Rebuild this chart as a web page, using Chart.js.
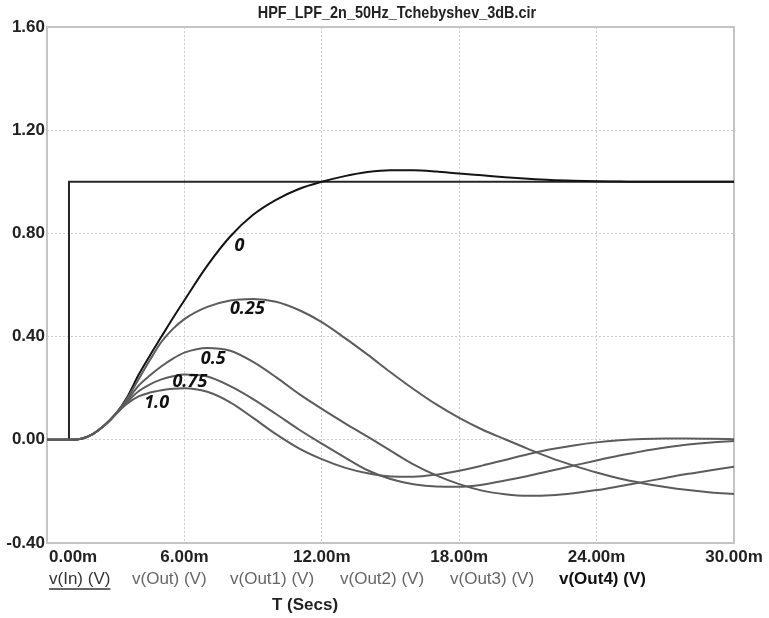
<!DOCTYPE html>
<html><head><meta charset="utf-8">
<script src="https://cdn.jsdelivr.net/npm/chart.js@4/dist/chart.umd.min.js"></script>
<style>html,body{margin:0;padding:0;background:#fff;}canvas{display:block;}</style>
</head><body>
<canvas id="c" width="769" height="618"></canvas>
<script>
const chartTitle = 'HPF_LPF_2n_50Hz_Tchebyshev_3dB.cir';
const axisTitleX = 'T (Secs)';
const seriesNames = ['v(In) (V)', 'v(Out) (V)', 'v(Out1) (V)', 'v(Out2) (V)', 'v(Out3) (V)', 'v(Out4) (V)'];
const xTicks = [0, 6, 12, 18, 24, 30];
const yTicks = [-0.4, 0, 0.4, 0.8, 1.2, 1.6];

// time in ms
const timeMs = [0, 1, 1.5, 2, 2.5, 3, 3.5, 4, 4.5, 5, 5.5, 6, 7, 8, 9, 10, 11, 12, 13, 14, 15, 16, 17, 18, 19, 20, 21, 22, 23, 24, 25, 26, 27, 28, 29, 30];
const inTime = [0, 0.96, 0.96, 30];
const vIn = [0, 0, 1, 1];
const vOut  = [0, 0, 0.004, 0.022, 0.055, 0.1, 0.165, 0.252, 0.328, 0.4, 0.472, 0.541, 0.675, 0.788, 0.872, 0.93, 0.972, 1.0, 1.022, 1.038, 1.045, 1.045, 1.04, 1.032, 1.025, 1.018, 1.012, 1.007, 1.004, 1.002, 1.001, 1.0, 1.0, 1.0, 1.0, 1.0];
const vOut1 = [0, 0, 0.004, 0.022, 0.055, 0.1, 0.16, 0.235, 0.31, 0.38, 0.43, 0.468, 0.515, 0.54, 0.546, 0.535, 0.503, 0.456, 0.395, 0.33, 0.262, 0.197, 0.137, 0.085, 0.04, 0.002, -0.035, -0.07, -0.1, -0.127, -0.15, -0.168, -0.183, -0.195, -0.204, -0.21];
const vOut2 = [0, 0, 0.004, 0.022, 0.055, 0.1, 0.153, 0.21, 0.25, 0.285, 0.315, 0.338, 0.356, 0.345, 0.302, 0.243, 0.178, 0.12, 0.065, 0.012, -0.042, -0.095, -0.138, -0.172, -0.197, -0.211, -0.217, -0.215, -0.207, -0.195, -0.18, -0.164, -0.148, -0.132, -0.118, -0.104];
const vOut3 = [0, 0, 0.004, 0.022, 0.055, 0.1, 0.147, 0.188, 0.215, 0.234, 0.246, 0.253, 0.245, 0.208, 0.158, 0.1, 0.04, -0.015, -0.068, -0.118, -0.152, -0.172, -0.181, -0.182, -0.174, -0.158, -0.14, -0.12, -0.1, -0.08, -0.061, -0.044, -0.03, -0.018, -0.01, -0.005];
const vOut4 = [0, 0, 0.004, 0.022, 0.055, 0.099, 0.14, 0.168, 0.183, 0.192, 0.198, 0.2, 0.186, 0.145, 0.085, 0.022, -0.033, -0.075, -0.108, -0.13, -0.142, -0.143, -0.135, -0.12, -0.1, -0.078, -0.056, -0.037, -0.022, -0.01, -0.002, 0.003, 0.005, 0.005, 0.004, 0.002];

// in-plot curve annotations (data coordinates)
const curveLabels = ['0', '0.25', '0.5', '0.75', '1.0'];
const curveLabelT = [8.4, 8.75, 7.26, 6.24, 4.79];
const curveLabelV = [0.75, 0.506, 0.314, 0.223, 0.143];

const pts = (xs, ys) => xs.map((x, i) => ({x: x, y: ys[i]}));
const SANS = "'Liberation Sans', Arial, sans-serif";

const textPlugin = {
  id: 'textPlugin',
  beforeDatasetsDraw(chart) {
    const {ctx, chartArea: a} = chart;
    ctx.save();
    ctx.strokeStyle = '#c4c4c4';
    ctx.lineWidth = 2;
    ctx.strokeRect(a.left, a.top, a.right - a.left, a.bottom - a.top);
    ctx.restore();
  },
  afterDraw(chart) {
    const {ctx, scales} = chart;
    const xs = scales.x, ys = scales.y;
    ctx.save();
    // title (slightly condensed)
    ctx.fillStyle = '#222';
    ctx.font = "bold 17px " + SANS;
    ctx.textAlign = 'center';
    ctx.textBaseline = 'middle';
    ctx.save();
    ctx.translate(397, 13);
    ctx.scale(0.85, 1);
    ctx.fillText(chartTitle, 0, 0);
    ctx.restore();
    // x tick labels
    ctx.font = "bold 17px " + SANS;
    xTicks.forEach((t, i) => {
      const px = xs.getPixelForValue(t);
      if (i === 0) { ctx.textAlign = 'left'; ctx.fillText(t.toFixed(2) + 'm', px + 2, 557); }
      else { ctx.textAlign = 'center'; ctx.fillText(t.toFixed(2) + 'm', px, 557); }
    });
    // legend
    const legendX = [49, 132, 230, 340, 450, 559];
    ctx.textAlign = 'left';
    seriesNames.forEach((name, i) => {
      if (i === 5) { ctx.font = "bold 17px " + SANS; ctx.fillStyle = '#111'; }
      else if (i === 0) { ctx.font = "17px " + SANS; ctx.fillStyle = '#333'; }
      else { ctx.font = "17px " + SANS; ctx.fillStyle = '#666'; }
      ctx.fillText(name, legendX[i], 579);
      if (i === 0) {
        const w = ctx.measureText(name).width;
        ctx.strokeStyle = '#333'; ctx.lineWidth = 1.5;
        ctx.beginPath(); ctx.moveTo(legendX[i], 589); ctx.lineTo(legendX[i] + w, 589); ctx.stroke();
      }
    });
    // axis title
    ctx.fillStyle = '#222';
    ctx.font = "bold 17px " + SANS;
    ctx.textAlign = 'center';
    ctx.fillText(axisTitleX, 305, 605);
    // curve labels
    ctx.font = "italic bold 18px 'Open Sans', Lato, sans-serif";
    ctx.fillStyle = '#111';
    curveLabels.forEach((s, i) => {
      ctx.fillText(s, xs.getPixelForValue(curveLabelT[i]), ys.getPixelForValue(curveLabelV[i]));
    });
    ctx.restore();
  }
};

const gray = '#5c5c5c';
new Chart(document.getElementById('c').getContext('2d'), {
  type: 'line',
  data: {
    datasets: [
      {label: seriesNames[5], data: pts(timeMs, vOut4), borderColor: gray},
      {label: seriesNames[4], data: pts(timeMs, vOut3), borderColor: gray},
      {label: seriesNames[3], data: pts(timeMs, vOut2), borderColor: gray},
      {label: seriesNames[2], data: pts(timeMs, vOut1), borderColor: gray},
      {label: seriesNames[1], data: pts(timeMs, vOut), borderColor: '#141414'},
      {label: seriesNames[0], data: pts(inTime, vIn), borderColor: '#262626', cubicInterpolationMode: 'default', tension: 0}
    ]
  },
  options: {
    responsive: false,
    animation: false,
    devicePixelRatio: 1,
    layout: {padding: {top: 27, right: 35, left: 0, bottom: 0}},
    elements: {point: {radius: 0}, line: {borderWidth: 2, cubicInterpolationMode: 'monotone', fill: false}},
    plugins: {legend: {display: false}, title: {display: false}, tooltip: {enabled: false}},
    scales: {
      x: {
        type: 'linear', min: 0, max: 30,
        afterBuildTicks: s => { s.ticks = xTicks.map(v => ({value: v})); },
        afterFit: s => { s.height = 75; },
        ticks: {display: false},
        grid: {color: '#cdcdcd', lineWidth: 1, drawTicks: false},
        border: {display: false, dash: [2, 2]}
      },
      y: {
        type: 'linear', min: -0.4, max: 1.6,
        afterBuildTicks: s => { s.ticks = yTicks.map(v => ({value: v})); },
        afterFit: s => { s.width = 47; },
        ticks: {callback: v => Number(v).toFixed(2), color: '#222', padding: 2, font: {family: SANS, weight: 'bold', size: 17}},
        grid: {color: '#cdcdcd', lineWidth: 1, drawTicks: false},
        border: {display: false, dash: [2, 2]}
      }
    }
  },
  plugins: [textPlugin]
});
</script>
</body></html>
